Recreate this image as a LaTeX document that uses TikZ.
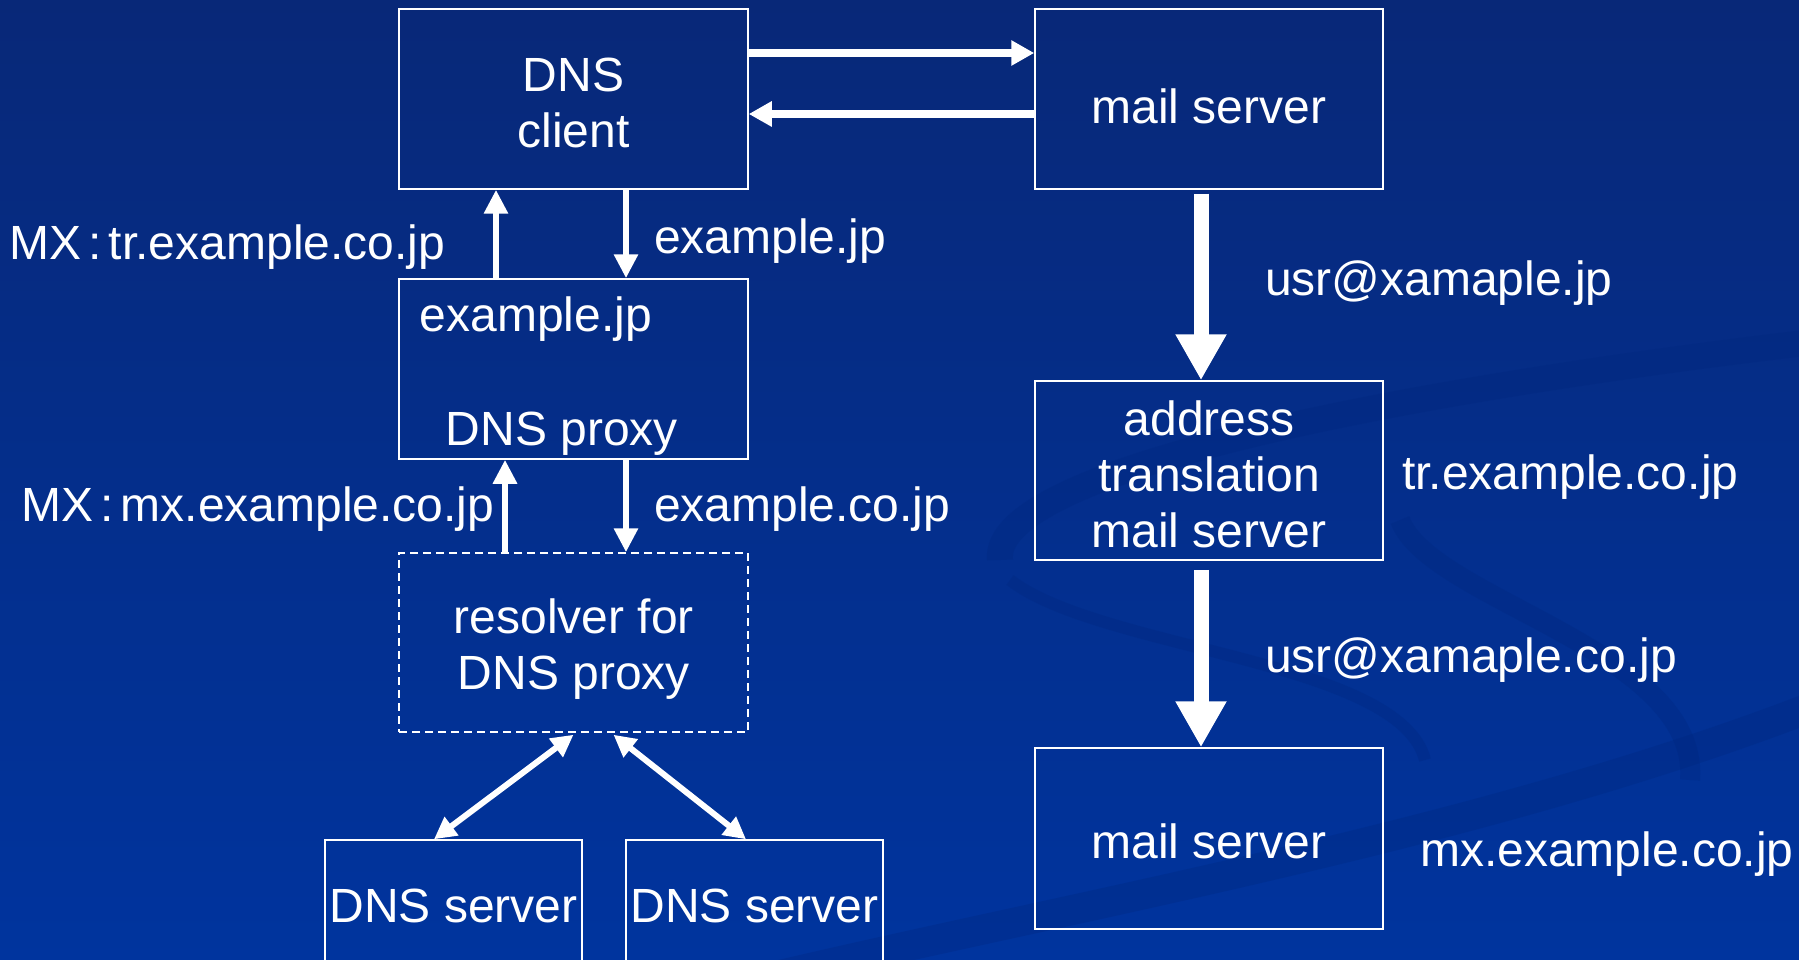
\documentclass[tikz,border=0pt]{standalone}
\usepackage{fontspec}
\setmainfont{Liberation Sans}
\usetikzlibrary{arrows.meta}
\definecolor{bgtop}{RGB}{8,40,120}
\definecolor{bgbot}{RGB}{0,52,158}
\definecolor{swirl}{RGB}{0,38,125}
\newcommand{\mxcolon}{\hspace{0.15em}:\hspace{0.15em}}
\begin{document}
\begin{tikzpicture}[x=1pt,y=-1pt,
 box/.style={draw=white, line width=1.5pt, minimum width=349pt, minimum height=180pt, inner sep=0pt},
 txt/.style={text=white, font=\fontsize{48}{56}\selectfont, inner sep=0pt, align=center},
 lbl/.style={txt, anchor=west},
 harrow/.style={draw=white, line width=8pt, -{Triangle[length=23pt,width=24pt]}},
 varrow/.style={draw=white, line width=6.5pt, -{Triangle[length=24pt,width=23pt]}},
 darrow/.style={draw=white, line width=6pt, {Triangle[length=22pt,width=22pt]}-{Triangle[length=22pt,width=22pt]}},
 bigarrow/.style={draw=white, line width=15pt, -{Triangle[length=46pt,width=48pt]}},
 swirlband/.style={draw=swirl, opacity=0.3},
]
\useasboundingbox (0,0) rectangle (1799,960);
\clip (0,0) rectangle (1799,960);
\shade[top color=bgtop, bottom color=bgbot] (0,0) rectangle (1799,960);
% background swirls
\draw[swirlband, line width=26pt] (1000,560) .. controls (990,470) and (1400,390) .. (1830,340);
\draw[swirlband, line width=12pt] (1010,580) .. controls (1100,650) and (1400,660) .. (1425,760);
\draw[swirlband, line width=20pt] (1400,520) .. controls (1430,600) and (1700,650) .. (1690,780);
\draw[swirlband, line width=30pt] (780,975) .. controls (1100,900) and (1500,830) .. (1830,700);

% boxes
\node[box] (client) at (573.5,99) {};
\node[txt] (clientt) at (573.5,103) {DNS\\client};
\node[box, minimum width=348pt] (mail1) at (1209,99) {};
\node[txt] (mail1t) at (1209,106) {mail server};
\node[box] (proxy) at (573.5,369) {};
\node[txt] (proxyt1) at (536,319) {example.jp};
\node[txt] (proxyt2) at (562,434) {DNS proxy};
\node[box, dashed, dash pattern=on 8pt off 5pt, minimum height=179pt] (resolver) at (573.5,642.5) {};
\node[txt] (resolvert) at (574,649) {resolver for\\DNS proxy};
\node[box, minimum width=257pt, minimum height=200pt] (dnsA) at (453.5,940) {};
\node[txt] (dnsAt) at (453.5,906) {DNS server};
\node[box, minimum width=257pt, minimum height=200pt] (dnsB) at (754.5,940) {};
\node[txt] (dnsBt) at (754.5,906) {DNS server};
\node[box, minimum width=348pt, minimum height=179pt] (addr) at (1209,470.5) {};
\node[txt] (addrt) at (1209,474) {address\\translation\\mail server};
\node[box, minimum width=348pt, minimum height=181pt] (mail2) at (1209,838.5) {};
\node[txt] (mail2t) at (1209,841) {mail server};

% labels
\node[lbl] (l1) at (9,247) {MX\mxcolon tr.example.co.jp};
\node[lbl] (l2) at (654,241) {example.jp};
\node[lbl] (l3) at (21,509) {MX\mxcolon mx.example.co.jp};
\node[lbl] (l4) at (654,509) {example.co.jp};
\node[lbl] (l5) at (1265,283) {usr@xamaple.jp};
\node[lbl] (l6) at (1265,660) {usr@xamaple.co.jp};
\node[lbl] (l7) at (1402,477) {tr.example.co.jp};
\node[lbl] (l8) at (1420,854) {mx.example.co.jp};

% arrows
\draw[harrow] ([yshift=46pt]client.east) -- ([yshift=46pt]mail1.west);
\draw[harrow] ([yshift=-15pt]mail1.west) -- ([yshift=-15pt]client.east);
\draw[varrow] ([xshift=-77.5pt]proxy.north) -- ([xshift=-77.5pt]client.south);
\draw[varrow] ([xshift=52.5pt]client.south) -- ([xshift=52.5pt]proxy.north);
\draw[varrow] ([xshift=-68.5pt]resolver.north) -- ([xshift=-68.5pt]proxy.south);
\draw[varrow] ([xshift=52.5pt]proxy.south) -- ([xshift=52.5pt]resolver.north);
\draw[darrow] ([yshift=-2pt]resolver.south) -- ([xshift=-19.5pt]dnsA.north);
\draw[darrow] ([xshift=40pt,yshift=-2pt]resolver.south) -- ([xshift=-8.5pt]dnsB.north);
\draw[bigarrow] ([xshift=-8pt,yshift=-4pt]mail1.south) -- ([xshift=-8pt]addr.north);
\draw[bigarrow] ([xshift=-8pt,yshift=-9pt]addr.south) -- ([xshift=-8pt]mail2.north);
\end{tikzpicture}
\end{document}
